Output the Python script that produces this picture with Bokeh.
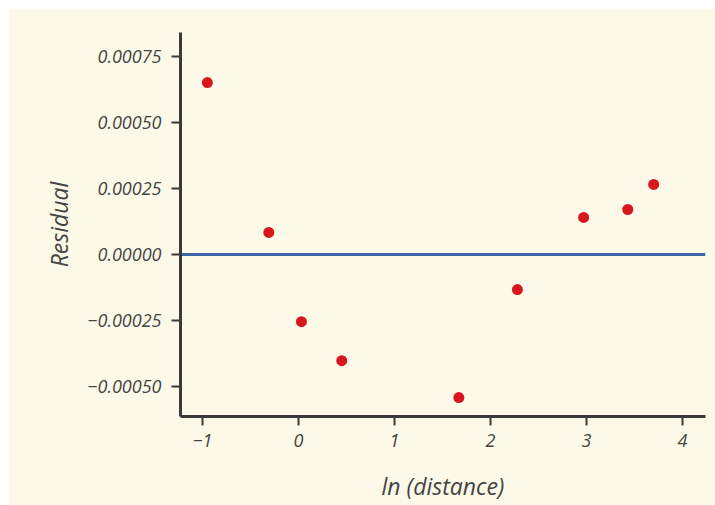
from bokeh.plotting import figure
from bokeh.models import FixedTicker, CustomJSTickFormatter, Range1d
from bokeh.embed import file_html
from bokeh.resources import INLINE

# data
ln_distance = [-0.95, -0.31, 0.03, 0.45, 1.67, 2.28, 2.97, 3.43, 3.70]
residual = [0.000653, 0.000084, -0.000255, -0.000403, -0.000543, -0.000133, 0.000141, 0.000171, 0.000266]
x_ticks = [-1, 0, 1, 2, 3, 4]
y_ticks = [-0.0005, -0.00025, 0.0, 0.00025, 0.0005, 0.00075]
zero_line_x = [-1.23, 4.24]
zero_line_y = [0.0, 0.0]

CREAM = "#fdf9e8"
INK = "#3a3a3a"
FONT = "Open Sans"

p = figure(width=707, height=497, output_backend="svg", toolbar_location=None,
           x_range=Range1d(-1.23, 4.24), y_range=Range1d(-0.000615, 0.000843),
           background_fill_color=CREAM, border_fill_color=CREAM,
           min_border_left=172, min_border_right=10, min_border_top=24, min_border_bottom=89)
p.margin = (8, 0, 0, 8)
p.outline_line_color = None
p.xgrid.visible = False
p.ygrid.visible = False

p.line(zero_line_x, zero_line_y, line_color="#3d66a8", line_width=3)
p.scatter(ln_distance, residual, size=11, fill_color="#d8161e", line_color=None)

for ax in (p.xaxis[0], p.yaxis[0]):
    ax.axis_line_color = INK
    ax.axis_line_width = 3
    ax.major_tick_line_color = INK
    ax.major_tick_line_width = 2
    ax.major_tick_in = 0
    ax.major_tick_out = 9
    ax.minor_tick_line_color = None
    ax.major_label_text_font = FONT
    ax.major_label_text_font_style = "italic"
    ax.major_label_text_font_size = "18px"
    ax.major_label_text_color = "#444444"
    ax.axis_label_text_font = FONT
    ax.axis_label_text_font_style = "italic"
    ax.axis_label_text_font_size = "23px"
    ax.axis_label_text_color = "#444444"

p.xaxis.ticker = FixedTicker(ticks=x_ticks)
p.yaxis.ticker = FixedTicker(ticks=y_ticks)
p.xaxis.formatter = CustomJSTickFormatter(code="return tick < 0 ? '\u2212' + Math.abs(tick) : String(tick);")
p.yaxis.formatter = CustomJSTickFormatter(code="return (tick < 0 ? '\u2212' : '') + Math.abs(tick).toFixed(5);")
p.xaxis.major_label_standoff = 8
p.yaxis.major_label_standoff = 10
p.xaxis.axis_label = "ln (distance)"
p.yaxis.axis_label = "Residual"
p.xaxis.axis_label_standoff = 20
p.yaxis.axis_label_standoff = 10

open("out.html", "w").write(file_html(p, INLINE))
